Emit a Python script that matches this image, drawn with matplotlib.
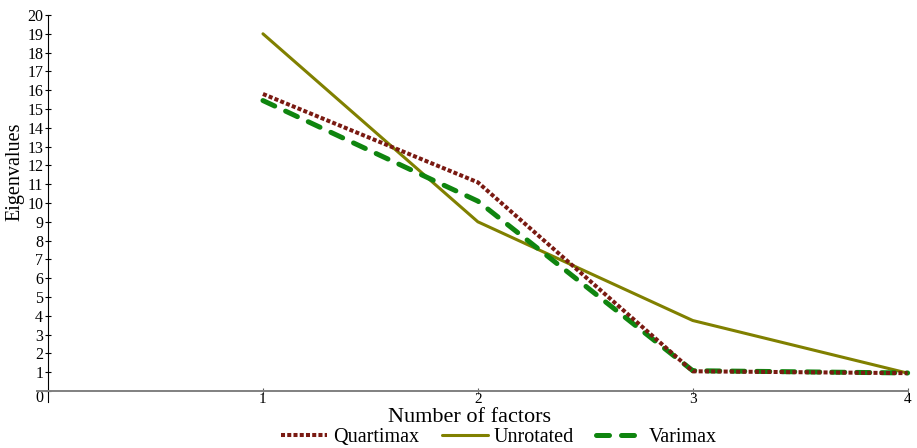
import matplotlib
matplotlib.use("Agg")
import matplotlib.pyplot as plt
from matplotlib.transforms import ScaledTranslation

# -------------------------------------------------------
# DATOS
# -------------------------------------------------------
factors    = [1, 2, 3, 4]
quartimax  = [15.8, 11.1, 1.05, 0.95]
unrotated  = [19.0, 9.0, 3.75, 0.95]
varimax    = [15.45, 10.1, 1.08, 0.96]
y_ticks    = list(range(0, 21))
x_ticks    = [1, 2, 3, 4]

plt.rcParams['font.family'] = ['Liberation Serif', 'DejaVu Serif']

fig = plt.figure(figsize=(9.17, 4.48), dpi=100)
ax = fig.add_axes([0.0407, 0.1033, 0.9491, 0.8632])

# -- Series --
l_unrot, = ax.plot(factors, unrotated, color='#808000', lw=2.2,
                   solid_capstyle='round', solid_joinstyle='round',
                   zorder=2, clip_on=False, label='Unrotated')
l_vari, = ax.plot(factors, varimax, color='#0f850f', lw=3.6,
                  linestyle=(0, (2.6, 2.4)), dash_capstyle='round',
                  zorder=3, clip_on=False, label='Varimax')
l_quart, = ax.plot(factors, quartimax, color='#7a1a12', lw=2.9,
                   linestyle=(0, (1, 0.55)), dash_capstyle='butt',
                   zorder=4, clip_on=False, label='Quartimax')

# -- Ejes --
ax.set_xlim(-0.05, 4)
ax.set_ylim(-0.57, 20)
ax.spines['top'].set_visible(False)
ax.spines['right'].set_visible(False)
ax.spines['left'].set_position(('data', 0))
ax.spines['left'].set_linewidth(0.8)
ax.spines['bottom'].set_position(('data', 0))
ax.spines['bottom'].set_color('#808080')
ax.spines['bottom'].set_linewidth(1.4)

ax.set_xticks(x_ticks)
ax.set_xticklabels([str(v) for v in x_ticks])
ax.set_yticks(y_ticks)
ax.set_yticklabels([str(v) for v in y_ticks])
ax.tick_params(axis='x', direction='inout', length=5, width=0.8,
               color='#606060', labelsize=11, pad=-1)
ax.tick_params(axis='y', direction='inout', length=5, width=0.8,
               labelsize=11.5, pad=1)

# el "0" del eje Y queda un poco más abajo en el original
lbl0 = ax.get_yticklabels()[0]
lbl0.set_transform(lbl0.get_transform() +
                   ScaledTranslation(0, -5 / 100, fig.dpi_scale_trans))

# -- Títulos de ejes --
fig.text(470 / 917, 1 - 422 / 448, 'Number of factors',
         ha='center', va='baseline', fontsize=16)
fig.text(15 / 917, 1 - 172 / 448, 'Eigenvalues', rotation=90,
         ha='center', va='center', fontsize=14.5)

# -- Leyenda --
fig.legend([l_quart, l_unrot, l_vari], ['Quartimax', 'Unrotated', 'Varimax'],
           loc='center', bbox_to_anchor=(499 / 917, 1 - 437 / 448),
           ncol=3, frameon=False, fontsize=14.5, handlelength=2.3,
           handletextpad=0.3, columnspacing=1.1, borderpad=0, borderaxespad=0)

fig.savefig("out.png", dpi=100)
